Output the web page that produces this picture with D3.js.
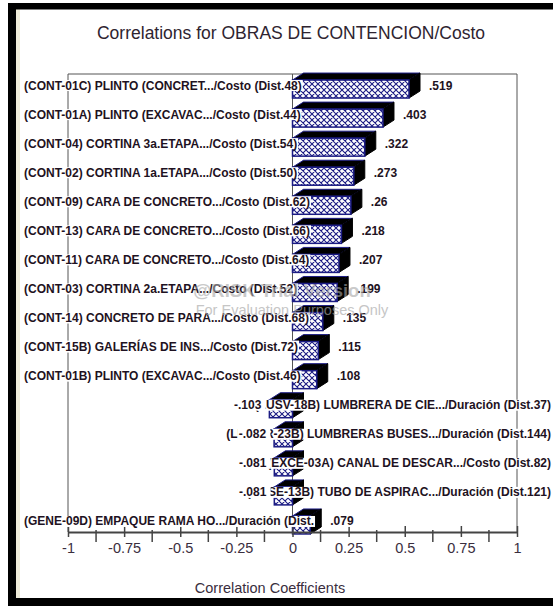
<!DOCTYPE html>
<html>
<head>
<meta charset="utf-8">
<script src="https://cdn.jsdelivr.net/npm/d3@7"></script>
<style>
  body { margin: 0; background: #fff; }
  svg { display: block; font-family: Arial, "Liberation Sans", sans-serif; }
</style>
</head>
<body>
<svg id="drawing_region"></svg>
<script>
// ---- data ----
const rowLabels = [
  "(CONT-01C) PLINTO (CONCRET.../Costo (Dist.48)",
  "(CONT-01A) PLINTO (EXCAVAC.../Costo (Dist.44)",
  "(CONT-04) CORTINA 3a.ETAPA.../Costo (Dist.54)",
  "(CONT-02) CORTINA 1a.ETAPA.../Costo (Dist.50)",
  "(CONT-09) CARA DE CONCRETO.../Costo (Dist.62)",
  "(CONT-13) CARA DE CONCRETO.../Costo (Dist.66)",
  "(CONT-11) CARA DE CONCRETO.../Costo (Dist.64)",
  "(CONT-03) CORTINA 2a.ETAPA.../Costo (Dist.52)",
  "(CONT-14) CONCRETO DE PARA.../Costo (Dist.68)",
  "(CONT-15B) GALERÍAS DE INS.../Costo (Dist.72)",
  "(CONT-01B) PLINTO (EXCAVAC.../Costo (Dist.46)",
  "(LUSV-18B) LUMBRERA DE CIE.../Duración (Dist.37)",
  "(LUMBR-23B) LUMBRERAS BUSES.../Duración (Dist.144)",
  "(EXCE-03A) CANAL DE DESCAR.../Costo (Dist.82)",
  "(CASE-13B) TUBO DE ASPIRAC.../Duración (Dist.121)",
  "(GENE-09D) EMPAQUE RAMA HO.../Duración (Dist."
];
const coefficients = [0.519, 0.403, 0.322, 0.273, 0.26, 0.218, 0.207, 0.199,
                      0.135, 0.115, 0.108, -0.103, -0.082, -0.081, -0.081, 0.079];
const majorTicks = [-1, -0.75, -0.5, -0.25, 0, 0.25, 0.5, 0.75, 1];
const tickLabels = ["-1", "-0.75", "-0.5", "-0.25", "0", "0.25", "0.5", "0.75", "1"];
const minorTicks = [-0.875, -0.625, -0.375, -0.125, 0.125, 0.375, 0.625, 0.875];
const chartTitle = "Correlations for OBRAS DE CONTENCION/Costo";
const axisTitle = "Correlation Coefficients";

const data = rowLabels.map((label, i) => ({ label: label, value: coefficients[i], i: i }));

const W = 553, H = 609;
const navy = "#1c1c84";
const ink = "#1e1222";

const svg = d3.select("#drawing_region").attr("width", W).attr("height", H);

// hatch for bar faces
const defs = svg.append("defs");
const pat = defs.append("pattern")
  .attr("id", "hatch").attr("patternUnits", "userSpaceOnUse")
  .attr("width", 6).attr("height", 6);
pat.append("rect").attr("width", 6).attr("height", 6).attr("fill", "#fff");
pat.append("path").attr("d", "M0,0L6,6M6,0L0,6M-1,5L1,7M5,-1L7,1")
  .attr("stroke", navy).attr("stroke-width", 1.1);

// outer window frame
svg.append("rect").attr("x", 16).attr("y", 9).attr("width", 4).attr("height", 589).attr("fill", "#efecd9");
svg.append("rect").attr("x", 8).attr("y", 3).attr("width", W - 8).attr("height", 6.5).attr("fill", "#000");
svg.append("rect").attr("x", 8).attr("y", 3).attr("width", 8).attr("height", 603).attr("fill", "#000");
svg.append("rect").attr("x", 8).attr("y", 598).attr("width", W - 8).attr("height", 8).attr("fill", "#000");

// scales
const x = d3.scaleLinear().domain([-1, 1]).range([68, 517]);
const y = d3.scaleBand().domain(d3.range(data.length)).range([70.5, 535.5]);
const axisY = 532, plotTop = 74;

// plot frame and zero line
const frame = svg.append("g").attr("stroke", "#555").attr("fill", "none");
frame.append("line").attr("x1", x(-1)).attr("x2", x(1)).attr("y1", plotTop).attr("y2", plotTop);
frame.append("line").attr("x1", x(-1)).attr("x2", x(-1)).attr("y1", plotTop).attr("y2", axisY);
frame.append("line").attr("x1", x(1)).attr("x2", x(1)).attr("y1", plotTop).attr("y2", axisY);
frame.append("line").attr("x1", x(0)).attr("x2", x(0)).attr("y1", plotTop).attr("y2", axisY);

// 3d bars
const dx = 11, dy = 7;
const bars = svg.append("g");
data.forEach(d => {
  const c = y(d.i) + y.bandwidth() / 2;
  const x0 = Math.min(x(0), x(d.value)), x1 = Math.max(x(0), x(d.value));
  const t = c - 5, b = c + 13;
  const g = bars.append("g");
  g.append("path")
    .attr("d", `M${x0},${t}L${x0 + dx},${t - dy}L${x1 + dx},${t - dy}L${x1},${t}Z`)
    .attr("fill", "#000").attr("stroke", navy).attr("stroke-width", 1);
  g.append("path")
    .attr("d", `M${x1},${t}L${x1 + dx},${t - dy}L${x1 + dx},${b - dy}L${x1},${b}Z`)
    .attr("fill", "#000").attr("stroke", "#000").attr("stroke-width", 1);
  g.append("rect")
    .attr("x", x0).attr("y", t).attr("width", x1 - x0).attr("height", b - t)
    .attr("fill", "url(#hatch)").attr("stroke", navy).attr("stroke-width", 1.5);
});

// axis
const axis = d3.axisBottom(x)
  .tickValues(majorTicks)
  .tickFormat((d, i) => tickLabels[i])
  .tickSize(5)
  .tickSizeOuter(0)
  .tickPadding(6);
const ax = svg.append("g").attr("transform", `translate(0,${axisY})`).call(axis);
ax.select(".domain").attr("stroke", "#444").attr("stroke-width", 2);
ax.selectAll(".tick line").attr("y1", -6).attr("y2", 5).attr("stroke", "#444").attr("stroke-width", 1.5);
ax.selectAll(".tick text").attr("font-size", 14.5).attr("fill", "#3a2e3e")
  .attr("font-family", "Arial, 'Liberation Sans', sans-serif");
ax.selectAll(".minor").data(minorTicks).enter().append("line")
  .attr("x1", d => x(d)).attr("x2", d => x(d))
  .attr("y1", -2).attr("y2", 10).attr("stroke", "#444").attr("stroke-width", 1.5);

// row labels with white backing
const fmt = v => d3.format(".3~f")(v).replace("\u2212", "-").replace(/^(-?)0\./, "$1.");
const labelG = svg.append("g").attr("font-size", 12).attr("font-weight", "bold").attr("fill", ink);
function backedText(parent, tx, ty, anchor, str, padR) {
  const g = parent.append("g");
  const r = g.append("rect").attr("fill", "#fff");
  const t = g.append("text").attr("x", tx).attr("y", ty).attr("text-anchor", anchor).text(str);
  const bb = t.node().getBBox();
  r.attr("x", bb.x - 1).attr("y", bb.y + 1.5)
    .attr("width", bb.width + 2 + (padR || 0)).attr("height", bb.height - 3);
}
data.forEach(d => {
  const c = y(d.i) + y.bandwidth() / 2;
  if (d.value >= 0) backedText(labelG, 24, c + 4.5, "start", d.label);
  else backedText(labelG, 551, c + 4.5, "end", d.label);
});
data.forEach(d => {
  const c = y(d.i) + y.bandwidth() / 2;
  if (d.value >= 0) backedText(labelG, x(d.value) + 20, c + 4.5, "start", fmt(d.value));
  else backedText(labelG, x(d.value) - 8, c + 4.5, "end", fmt(d.value), 3);
});

// titles
svg.append("text").attr("x", 291).attr("y", 39).attr("text-anchor", "middle")
  .attr("font-size", 17.5).attr("fill", "#2e2430").text(chartTitle);
svg.append("text").attr("x", 270).attr("y", 593).attr("text-anchor", "middle")
  .attr("font-size", 14.5).attr("fill", "#3a2e3e").text(axisTitle);

// trial watermark
svg.append("text").attr("x", 282).attr("y", 297).attr("text-anchor", "middle")
  .attr("font-size", 18.5).attr("font-weight", "bold").attr("fill", "#a8a8a8").attr("opacity", 0.6)
  .text("@RISK Trial Version");
svg.append("text").attr("x", 292).attr("y", 315).attr("text-anchor", "middle")
  .attr("font-size", 14.5).attr("fill", "#a8a8a8").attr("opacity", 0.65)
  .text("For Evaluation Purposes Only");
</script>
</body>
</html>
